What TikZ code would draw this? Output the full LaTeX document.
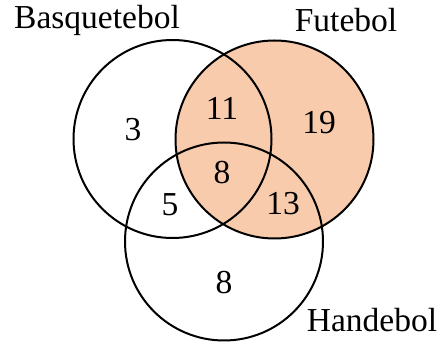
\documentclass[tikz,border=0pt]{standalone}
\usepackage{fontspec}
\setmainfont{Liberation Serif}
\usetikzlibrary{positioning}
\definecolor{peach}{HTML}{F8CBAD}

\begin{document}
\begin{tikzpicture}[x=1pt,y=1pt,font=\fontsize{33.5}{38}\selectfont,
 set/.style={circle,draw,line width=2pt,minimum size=198pt,inner sep=0pt},
 count/.style={inner sep=1pt},
 title/.style={inner sep=0pt}]
\useasboundingbox (0,0) rectangle (440,-342);
\fill[peach] (274.5,-139.5) circle (99);
\node[set] (basq) at (172.5,-139) {};
\node[set] (fut) at (274.5,-139.5) {};
\node[set] (hand) at (224,-241.5) {};
\node[title] (lbasq) at (97,-20) {Basquetebol};
\node[title] (lfut) at (346,-20) {Futebol};
\node[title] (lhand) at (372,-320) {Handebol};
\node[count] (nb) at (133,-130) {3};
\node[count] (nbf) at (222,-108) {11};
\node[count] (nf) at (319,-123) {19};
\node[count] (nall) at (222,-173) {8};
\node[count] (nbh) at (170,-205) {5};
\node[count] (nfh) at (283,-204) {13};
\node[count] (nh) at (224,-283) {8};
\end{tikzpicture}
\end{document}
